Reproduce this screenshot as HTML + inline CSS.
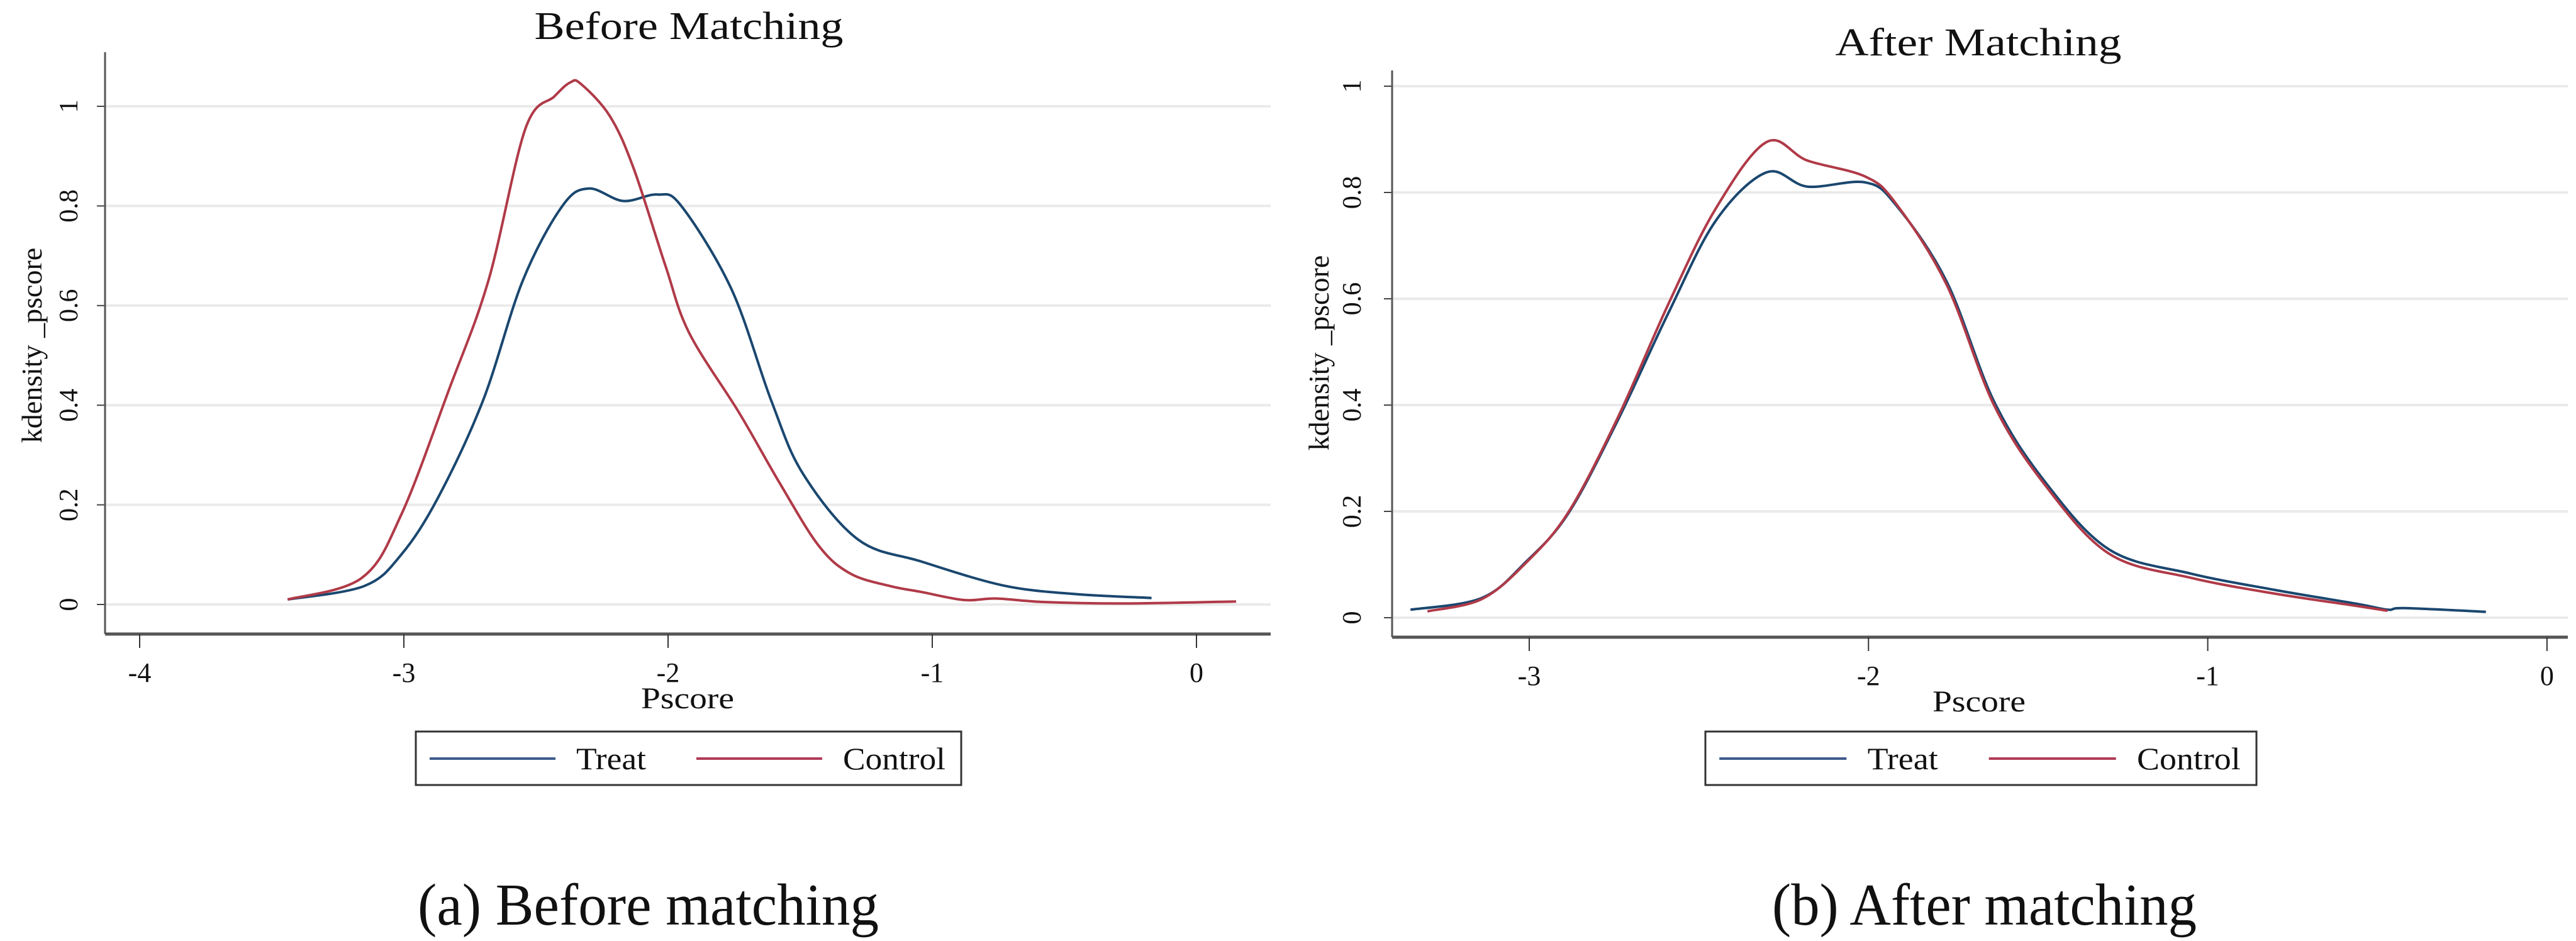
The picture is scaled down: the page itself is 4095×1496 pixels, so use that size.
<!DOCTYPE html>
<html><head><meta charset="utf-8">
<style>
html,body{margin:0;padding:0;background:#fff;}
svg{display:block;}
text{font-family:"Liberation Serif",serif;fill:#111;}
</style></head>
<body>
<svg id="fig" width="4095" height="1496" viewBox="0 0 4095 1496" xmlns="http://www.w3.org/2000/svg">
<rect width="4095" height="1496" fill="#fff"/>
<g id="panelA"></g>
<g id="panelB"></g>
<text x="664" y="1470" font-size="94" textLength="733" lengthAdjust="spacingAndGlyphs">(a) Before matching</text>
<text x="2817" y="1470" font-size="94" textLength="675" lengthAdjust="spacingAndGlyphs">(b) After matching</text>
</svg>
<script>
const yTicks = [0, 0.2, 0.4, 0.6, 0.8, 1];
const yTickLabels = ["0", "0.2", "0.4", "0.6", "0.8", "1"];
const xTicksA = [-4, -3, -2, -1, 0];
const xTickLabelsA = ["-4", "-3", "-2", "-1", "0"];
const xTicksB = [-3, -2, -1, 0];
const xTickLabelsB = ["-3", "-2", "-1", "0"];

const beforeTreatX = [-3.44,-3.15,-3.01,-2.87,-2.70,-2.55,-2.40,-2.30,-2.17,-2.04,-1.95,-1.76,-1.61,-1.49,-1.28,-1.04,-0.73,-0.46,-0.17];
const beforeTreatY = [0.01,0.037,0.10,0.215,0.41,0.65,0.80,0.835,0.81,0.823,0.80,0.633,0.41,0.263,0.13,0.086,0.038,0.021,0.013];
const beforeControlX = [-3.44,-3.16,-3.01,-2.83,-2.68,-2.54,-2.43,-2.37,-2.33,-2.22,-2.13,-2.01,-1.92,-1.73,-1.58,-1.43,-1.31,-1.16,-1.04,-0.88,-0.76,-0.58,-0.28,0.15];
const beforeControlY = [0.01,0.053,0.18,0.43,0.65,0.955,1.02,1.048,1.045,0.98,0.875,0.68,0.545,0.384,0.246,0.118,0.062,0.037,0.025,0.009,0.012,0.005,0.002,0.006];

const afterTreatX = [-3.35,-3.14,-3.01,-2.885,-2.74,-2.59,-2.45,-2.30,-2.18,-2.01,-1.92,-1.77,-1.63,-1.48,-1.29,-1.05,-0.80,-0.56,-0.47,-0.42,-0.18];
const afterTreatY = [0.015,0.037,0.105,0.196,0.37,0.573,0.747,0.838,0.811,0.819,0.777,0.633,0.407,0.256,0.128,0.083,0.052,0.026,0.015,0.018,0.011];
const afterControlX = [-3.30,-3.14,-3.01,-2.885,-2.74,-2.59,-2.45,-2.30,-2.18,-2.01,-1.92,-1.77,-1.63,-1.48,-1.29,-1.05,-0.80,-0.56,-0.47];
const afterControlY = [0.012,0.035,0.103,0.198,0.375,0.59,0.77,0.895,0.86,0.83,0.78,0.627,0.40,0.25,0.12,0.075,0.045,0.022,0.013];

const NS = "http://www.w3.org/2000/svg";
function mk(parent, tag, attrs, txt) {
  const e = document.createElementNS(NS, tag);
  for (const k in attrs) e.setAttribute(k, attrs[k]);
  if (txt !== undefined) e.textContent = txt;
  parent.appendChild(e);
  return e;
}
function smoothPath(P) {
  let d = "M" + P[0][0].toFixed(1) + "," + P[0][1].toFixed(1);
  for (let i = 0; i < P.length - 1; i++) {
    const p0 = P[Math.max(0, i - 1)], p1 = P[i], p2 = P[i + 1], p3 = P[Math.min(P.length - 1, i + 2)];
    const c1x = p1[0] + (p2[0] - p0[0]) / 6, c1y = p1[1] + (p2[1] - p0[1]) / 6;
    const c2x = p2[0] - (p3[0] - p1[0]) / 6, c2y = p2[1] - (p3[1] - p1[1]) / 6;
    d += " C" + c1x.toFixed(1) + "," + c1y.toFixed(1) + " " + c2x.toFixed(1) + "," + c2y.toFixed(1) + " " + p2[0].toFixed(1) + "," + p2[1].toFixed(1);
  }
  return d;
}

function drawPanel(g, cfg, xTicks, xLabels, tX, tY, cX, cY) {
  const xs = v => cfg.x0 + (v - cfg.xv0) * cfg.xs;
  const ys = v => cfg.y0 - v * cfg.ys;
  const t = mk(g, "text", {x: cfg.titleX, y: cfg.titleY, "font-size": 62, "text-anchor": "middle", textLength: cfg.titleW, lengthAdjust: "spacingAndGlyphs", fill: "#1e2a3a"}, cfg.title);
  
  
  yTicks.forEach((v, i) => {
    const gl = mk(g, "line", {x1: cfg.axL, x2: cfg.axR, y1: ys(v), y2: ys(v), stroke: "#eaeaea", "stroke-width": 4});
    
    
    const tk = mk(g, "line", {x1: cfg.axL - 13, x2: cfg.axL, y1: ys(v), y2: ys(v), stroke: "#444", "stroke-width": 2});
    
    
    const lb = mk(g, "text", {x: 0, y: 0, "font-size": 42, "text-anchor": "middle", transform: `translate(${cfg.yLabX},${ys(v)}) rotate(-90)`}, yTickLabels[i]);
    
    
  });
  const yt = mk(g, "text", {x: 0, y: 0, "font-size": 46, "text-anchor": "middle", transform: `translate(${cfg.yTitleX},${cfg.yTitleY}) rotate(-90)`}, "kdensity _pscore");
  
  
  const ya = mk(g, "line", {x1: cfg.axL, x2: cfg.axL, y1: cfg.axTop, y2: cfg.axY, stroke: "#555", "stroke-width": 3});
  
  
  const xa = mk(g, "line", {x1: cfg.axL, x2: cfg.axR, y1: cfg.axY, y2: cfg.axY, stroke: "#555", "stroke-width": 5});
  
  
  xTicks.forEach((v, i) => {
    const tk = mk(g, "line", {x1: xs(v), x2: xs(v), y1: cfg.axY, y2: cfg.axY + 22, stroke: "#333", "stroke-width": 2});
    
    
    const lb = mk(g, "text", {x: xs(v), y: cfg.axY + 76, "font-size": 44, "text-anchor": "middle"}, xLabels[i]);
    
    
  });
  const xt = mk(g, "text", {x: cfg.pX, y: cfg.axY + 118, "font-size": 48, "text-anchor": "middle", textLength: 148, lengthAdjust: "spacingAndGlyphs"}, "Pscore");
  
  
  const pts = (X, Y) => X.map((v, i) => [xs(v), ys(Y[i])]);
  const tl = mk(g, "path", {d: smoothPath(pts(tX, tY)), fill: "none", stroke: "#1a476f", "stroke-width": 4, "stroke-linejoin": "round"});
  
  
  const cl = mk(g, "path", {d: smoothPath(pts(cX, cY)), fill: "none", stroke: "#b03a48", "stroke-width": 4, "stroke-linejoin": "round"});
  
  
  const L = cfg.legL, R = cfg.legR, T = 1163, B = 1248, w = R - L;
  const lg = mk(g, "g", {});
  
  
  mk(lg, "rect", {x: L, y: T, width: w, height: B - T, fill: "#fff", stroke: "#333", "stroke-width": 3});
  const s = w / 867;
  const e1 = mk(lg, "line", {x1: L + 22 * s, x2: L + 222 * s, y1: 1206, y2: 1206, stroke: "#3e5a8a", "stroke-width": 4});
  
  
  const t1 = mk(lg, "text", {x: L + 255 * s, y: 1223, "font-size": 50, textLength: 111 * s, lengthAdjust: "spacingAndGlyphs"}, "Treat");
  
  
  const e2 = mk(lg, "line", {x1: L + 446 * s, x2: L + 646 * s, y1: 1206, y2: 1206, stroke: "#b03a58", "stroke-width": 4});
  
  
  const t2 = mk(lg, "text", {x: L + 679 * s, y: 1223, "font-size": 50, textLength: 163 * s, lengthAdjust: "spacingAndGlyphs"}, "Control");
  
  
}

drawPanel(document.getElementById("panelA"),
  {x0: 222, xv0: -4, xs: 420, y0: 961, ys: 792, axL: 167, axR: 2020, axTop: 83, axY: 1008,
   title: "Before Matching", titleX: 1095, titleY: 62, titleW: 491, yLabX: 123, yTitleX: 66, yTitleY: 549, pX: 1093,
   legL: 661, legR: 1528},
  xTicksA, xTickLabelsA, beforeTreatX, beforeTreatY, beforeControlX, beforeControlY);

drawPanel(document.getElementById("panelB"),
  {x0: 2431, xv0: -3, xs: 539.3, y0: 982, ys: 845, axL: 2213, axR: 4082, axTop: 112, axY: 1013,
   title: "After Matching", titleX: 3145, titleY: 88, titleW: 455, yLabX: 2163, yTitleX: 2112, yTitleY: 561, pX: 3146,
   legL: 2711, legR: 3587},
  xTicksB, xTickLabelsB, afterTreatX, afterTreatY, afterControlX, afterControlY);
</script>
</body></html>
